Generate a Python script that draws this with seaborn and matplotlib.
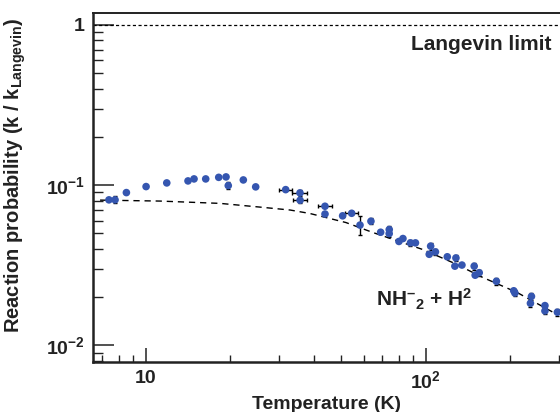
import numpy as np
import pandas as pd
import matplotlib
matplotlib.use("Agg")
import matplotlib.pyplot as plt
import matplotlib.ticker as mticker
import seaborn as sns

# ---- data ----
temperature = [7.39, 7.77, 8.53, 10.03, 11.89, 14.16, 14.88, 16.38, 18.23, 19.36,
               19.72, 22.32, 24.71, 31.62, 35.57, 35.6, 43.69, 43.7, 50.52, 54.42,
               58.28, 63.77, 69.07, 74.13, 74.1, 80.28, 82.97, 88.24, 91.97, 104.2,
               103.0, 108.4, 119.5, 128.3, 127.2, 134.8, 149.1, 150.3, 155.4, 179.0,
               206.4, 208.4, 238.8, 236.8, 266.8, 266.8, 295.6]
probability = [0.0809, 0.0809, 0.0898, 0.0979, 0.1032, 0.1062, 0.1093, 0.1093, 0.1118, 0.1125,
               0.0993, 0.1077, 0.0975, 0.0937, 0.0894, 0.0804, 0.0738, 0.0660, 0.0643, 0.0667,
               0.0563, 0.0595, 0.0508, 0.0528, 0.0498, 0.0445, 0.0464, 0.0436, 0.0436, 0.0416,
               0.0370, 0.0383, 0.0357, 0.0351, 0.0312, 0.0317, 0.0312, 0.0274, 0.0284, 0.0251,
               0.0219, 0.0212, 0.0202, 0.0183, 0.0177, 0.0164, 0.0161]
prob_err = [0.0, 0.004, 0.0, 0.0, 0.0, 0.0, 0.0, 0.0, 0.0, 0.0,
            0.005, 0.0, 0.0, 0.0, 0.004, 0.003, 0.0, 0.0, 0.0, 0.0,
            0.0075, 0.0025, 0.0, 0.0025, 0.0022, 0.0, 0.0, 0.002, 0.0, 0.002,
            0.0, 0.0018, 0.0, 0.0016, 0.0, 0.0, 0.0015, 0.0, 0.0013, 0.0012,
            0.0, 0.001, 0.001, 0.0009, 0.0, 0.0008, 0.0008]
temp_err = [0.0, 0.0, 0.0, 0.0, 0.0, 0.0, 0.0, 0.0, 0.0, 0.0,
            0.0, 0.0, 0.0, 1.8, 2.2, 2.0, 2.6, 0.0, 0.0, 3.0,
            0.0, 0.0, 0.0, 0.0, 0.0, 0.0, 0.0, 0.0, 0.0, 0.0,
            0.0, 0.0, 0.0, 0.0, 0.0, 0.0, 0.0, 0.0, 0.0, 0.0,
            0.0, 0.0, 0.0, 0.0, 0.0, 0.0, 0.0]

model_temperature = [6.87, 11.25, 18.43, 25.6, 32.8, 38.6, 51.9, 64.8, 97.8, 127.2,
                     160.2, 211.9, 294.4]
model_probability = [0.0806, 0.0795, 0.0769, 0.0729, 0.0699, 0.0665, 0.0584, 0.0506, 0.0396,
                     0.0324, 0.0265, 0.0214, 0.0156]

langevin_temperature = [6.5, 310.0]
langevin_probability = [1.0, 1.0]

x_ticks = [10, 100]
x_tick_labels = ["10", "10$^{2}$"]
y_ticks = [0.01, 0.1, 1]
y_tick_labels = ["10$^{\u22122}$", "10$^{\u22121}$", "1"]

# ---- style ----
sns.set_theme(style="white")
plt.rcParams["font.family"] = ["Liberation Sans", "DejaVu Sans"]
plt.rcParams["font.weight"] = "bold"
plt.rcParams["mathtext.fontset"] = "custom"
plt.rcParams["mathtext.rm"] = "Liberation Sans:bold"
plt.rcParams["mathtext.bf"] = "Liberation Sans:bold"
plt.rcParams["mathtext.it"] = "Liberation Sans:bold"
plt.rcParams["mathtext.default"] = "rm"

fig = plt.figure(figsize=(5.6, 4.12), dpi=100)
ax = fig.add_axes([0.1667, 0.122, 0.8333, 0.847])

df = pd.DataFrame({"T": temperature, "P": probability})
model = pd.DataFrame({"T": model_temperature, "P": model_probability})
lang = pd.DataFrame({"T": langevin_temperature, "P": langevin_probability})

sns.lineplot(data=lang, x="T", y="P", ax=ax, color="black", lw=0.9,
             linestyle=(0, (2.5, 2.0)), zorder=2)
sns.lineplot(data=model, x="T", y="P", ax=ax, color="black", lw=1.0,
             linestyle=(0, (4.5, 3.5)), zorder=2)
ax.errorbar(temperature, probability, yerr=prob_err, xerr=temp_err, fmt="none",
            ecolor="black", elinewidth=1.0, capsize=1.5, capthick=1.0, zorder=3)
sns.scatterplot(data=df, x="T", y="P", ax=ax, color="#3556b0", s=30,
                edgecolor="none", zorder=4)

ax.set_xscale("log")
ax.set_yscale("log")
ax.set_xlim(6.5, 302)
ax.set_ylim(0.0079, 1.19)

ax.set_xticks(x_ticks)
ax.set_xticklabels(x_tick_labels)
ax.set_yticks(y_ticks)
ax.set_yticklabels(y_tick_labels)
ax.xaxis.set_minor_locator(mticker.LogLocator(base=10, subs=np.arange(2, 10) * 1.0, numticks=20))
ax.yaxis.set_minor_locator(mticker.LogLocator(base=10, subs=np.arange(2, 10) * 1.0, numticks=20))
ax.xaxis.set_minor_formatter(mticker.NullFormatter())
ax.yaxis.set_minor_formatter(mticker.NullFormatter())

ax.tick_params(which="both", bottom=True, left=True, top=False, right=False)
ax.tick_params(axis="x", which="major", direction="in", length=10, width=1.1,
               labelsize=14, pad=6, colors="#222222")
ax.tick_params(axis="x", which="minor", direction="in", length=5, width=1.0, colors="#222222")
ax.tick_params(axis="y", which="major", direction="in", length=15, width=1.1,
               labelsize=14, pad=6, colors="#222222")
ax.tick_params(axis="y", which="minor", direction="in", length=7, width=1.0, colors="#222222")

for side in ["left", "bottom"]:
    ax.spines[side].set_linewidth(1.8)
    ax.spines[side].set_color("#222222")
ax.spines["top"].set_linewidth(1.4)
ax.spines["top"].set_color("#222222")
ax.spines["right"].set_visible(False)

ax.set_xlabel("Temperature (K)", fontsize=14, fontweight="bold", color="#222222", labelpad=3)
ax.set_ylabel("Reaction probability (k / k$_{\\mathrm{Langevin}}$)", fontsize=14.5,
              fontweight="bold", color="#222222")
ax.yaxis.set_label_coords(-0.14, 0.535)

ax.text(0.981, 0.91, "Langevin limit", transform=ax.transAxes, ha="right", va="center",
        fontsize=15, fontweight="bold", color="#222222")
ax.text(0.606, 0.18, "NH$^{\u2013}$$_{2}$ + H$^{2}$", transform=ax.transAxes, ha="left",
        va="center", fontsize=15, fontweight="bold", color="#222222")

fig.savefig("out.png", dpi=100)
